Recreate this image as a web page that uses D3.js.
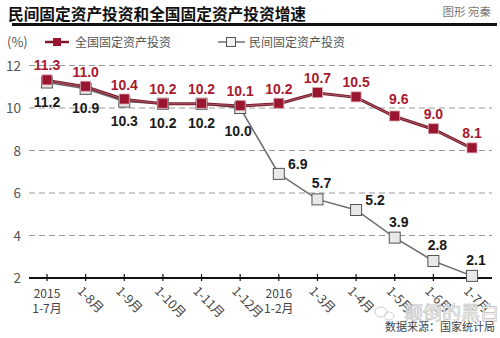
<!DOCTYPE html>
<html>
<head>
<meta charset="utf-8">
<script src="https://cdn.jsdelivr.net/npm/d3@7"></script>
<style>
  html, body { margin: 0; padding: 0; background: #fff; }
  svg { display: block; }
  text { font-family: "Noto Sans CJK SC", "Noto Sans", sans-serif; }
  .num { font-family: "Liberation Sans Narrow", "Arial Narrow", "Liberation Sans", sans-serif; font-weight: bold; }
</style>
</head>
<body>
<svg id="chart" width="500" height="338"></svg>
<script>
// Periods (cumulative months), two lines per label where a year is shown
const periods = ["2015\n1-7月", "1-8月", "1-9月", "1-10月", "1-11月", "1-12月",
                 "2016\n1-2月", "1-3月", "1-4月", "1-5月", "1-6月", "1-7月"];
// Growth of national fixed-asset investment (%)
const national = [11.3, 11.0, 10.4, 10.2, 10.2, 10.1, 10.2, 10.7, 10.5, 9.6, 9.0, 8.1];
// Growth of private fixed-asset investment (%)
const privateInv = [11.2, 10.9, 10.3, 10.2, 10.2, 10.0, 6.9, 5.7, 5.2, 3.9, 2.8, 2.1];
const yTicks = [2, 4, 6, 8, 10, 12];
const seriesNames = ["全国固定资产投资", "民间固定资产投资"];

const svg = d3.select("#chart");
const RED = "#9a1630", RED_LINE = "#7e1a2a", GRAY_LINE = "#6e6e6e";

// Title block
svg.append("text").attr("x", 8).attr("y", 20)
  .attr("font-size", 15.7).attr("font-weight", 700).attr("fill", "#111")
  .text("民间固定资产投资和全国固定资产投资增速");
svg.append("text").attr("x", 491).attr("y", 16).attr("text-anchor", "end")
  .attr("font-size", 11.5).attr("fill", "#777").text("图形 宛秦");
svg.append("line").attr("x1", 12).attr("x2", 497).attr("y1", 24.5).attr("y2", 24.5)
  .attr("stroke", "#111").attr("stroke-width", 3);

// Scales
const x = d3.scalePoint().domain(d3.range(periods.length)).range([47, 472]);
const y = d3.scaleLinear().domain([2, 12]).range([278, 65.5]);
const x0 = 29, x1 = 492;

// Legend
svg.append("text").attr("x", 7).attr("y", 46.5).attr("font-size", 13).attr("fill", "#555")
  .attr("font-family", "Liberation Sans, sans-serif").text("(%)");
const lg = svg.append("g");
lg.append("line").attr("x1", 45).attr("x2", 69).attr("y1", 42).attr("y2", 42)
  .attr("stroke", RED_LINE).attr("stroke-width", 2.5);
lg.append("rect").attr("x", 53).attr("y", 38).attr("width", 8).attr("height", 8).attr("fill", RED);
lg.append("text").attr("x", 75).attr("y", 46.5).attr("font-size", 12).attr("fill", "#555").text(seriesNames[0]);
lg.append("line").attr("x1", 218).attr("x2", 245).attr("y1", 42).attr("y2", 42)
  .attr("stroke", GRAY_LINE).attr("stroke-width", 1.5);
lg.append("rect").attr("x", 226.5).attr("y", 37.5).attr("width", 9).attr("height", 9)
  .attr("fill", "#f2f2f2").attr("stroke", "#555").attr("stroke-width", 1);
lg.append("text").attr("x", 249).attr("y", 46.5).attr("font-size", 12).attr("fill", "#555").text(seriesNames[1]);

// Grid lines and y labels
const grid = svg.append("g");
yTicks.forEach(t => {
  if (t !== 2) {
    grid.append("line").attr("x1", x0).attr("x2", x1).attr("y1", y(t)).attr("y2", y(t))
      .attr("stroke", "#9a9a9a").attr("stroke-width", 1).attr("stroke-dasharray", "6,4");
  }
  grid.append("text").attr("x", 21).attr("y", y(t) + 5).attr("text-anchor", "end")
    .attr("font-size", 13.5).attr("fill", "#555").attr("font-family", "Liberation Sans, sans-serif")
    .text(t);
});

// Baseline axis with ticks
const axisG = svg.append("g").attr("transform", `translate(0,${y(2)})`);
axisG.append("line").attr("x1", x0).attr("x2", x1).attr("stroke", "#111").attr("stroke-width", 2);
periods.forEach((p, i) => {
  axisG.append("line").attr("x1", x(i)).attr("x2", x(i)).attr("y1", -4).attr("y2", 3)
    .attr("stroke", "#111").attr("stroke-width", 1.2);
});

// Period labels: year-start labels stay flat on two lines, others are slanted
periods.forEach((p, i) => {
  const parts = p.split("\n");
  if (parts.length > 1) {
    parts.forEach((s, k) => svg.append("text").attr("text-anchor", "middle")
      .attr("font-size", 12).attr("fill", "#444")
      .attr("font-family", "Liberation Sans, Noto Sans CJK SC, sans-serif")
      .attr("x", x(i)).attr("y", 298 + k * 15).text(s));
  } else {
    svg.append("text").attr("font-size", 12.5).attr("fill", "#444")
      .attr("font-family", "Liberation Sans, Noto Sans CJK SC, sans-serif")
      .attr("transform", `translate(${x(i) - 9},${292}) rotate(45)`)
      .text(p);
  }
});

// Lines
const line = d3.line().x((d, i) => x(i)).y(d => y(d));
svg.append("path").datum(privateInv).attr("d", line).attr("fill", "none")
  .attr("stroke", GRAY_LINE).attr("stroke-width", 1.5);
svg.append("path").datum(national).attr("d", line).attr("fill", "none")
  .attr("stroke", RED_LINE).attr("stroke-width", 3);
svg.append("path").datum(national).attr("d", line).attr("fill", "none")
  .attr("stroke", "#b07a82").attr("stroke-width", 0.7);

// Markers
svg.append("g").selectAll("rect").data(privateInv).join("rect")
  .attr("x", (d, i) => x(i) - 5.5).attr("y", d => y(d) - 5.5)
  .attr("width", 11).attr("height", 11)
  .attr("fill", "#e8e8e8").attr("stroke", "#555").attr("stroke-width", 1);
svg.append("g").selectAll("rect").data(national).join("rect")
  .attr("x", (d, i) => x(i) - 5).attr("y", d => y(d) - 5.5)
  .attr("width", 10).attr("height", 10)
  .attr("fill", RED).attr("stroke", "#d9a0aa").attr("stroke-width", 0.8);

// Value labels
const fmt = d3.format(".1f");
svg.append("g").selectAll("text").data(national).join("text").attr("class", "num")
  .attr("x", (d, i) => x(i) + (i === 9 ? 4 : 0))
  .attr("y", (d, i) => y(d) - (i === 9 ? 13 : 10))
  .attr("text-anchor", "middle").attr("font-size", 14).attr("fill", "#a8192f")
  .text(d => fmt(d));

// Private labels sit below while the lines overlap, then beside the falling line
const privOffset = i => {
  if (i < 6) return [i === 5 ? -2 : 0, i === 5 ? 28 : 24];
  if (i === 6 || i === 8) return [19, -5];
  return [4, -11];
};
svg.append("g").selectAll("text").data(privateInv).join("text").attr("class", "num")
  .attr("x", (d, i) => x(i) + privOffset(i)[0])
  .attr("y", (d, i) => y(d) + privOffset(i)[1])
  .attr("text-anchor", "middle").attr("font-size", 14).attr("fill", "#1a1a1a")
  .text(d => fmt(d));

// Watermark and source
const wm = svg.append("g").attr("fill", "none").attr("stroke", "#cfcfcf").attr("stroke-width", 1);
wm.append("ellipse").attr("cx", 381).attr("cy", 312).attr("rx", 6).attr("ry", 5);
wm.append("ellipse").attr("cx", 389).attr("cy", 316).attr("rx", 5).attr("ry", 4);
svg.append("text").attr("x", 404).attr("y", 320).attr("font-size", 19)
  .attr("fill", "#fafafa").attr("stroke", "#c4c4c4").attr("stroke-width", 0.7).text("颠倒的黑白");
svg.append("text").attr("x", 495).attr("y", 331).attr("text-anchor", "end")
  .attr("font-size", 11).attr("fill", "#444").text("数据来源：国家统计局");
</script>
</body>
</html>
